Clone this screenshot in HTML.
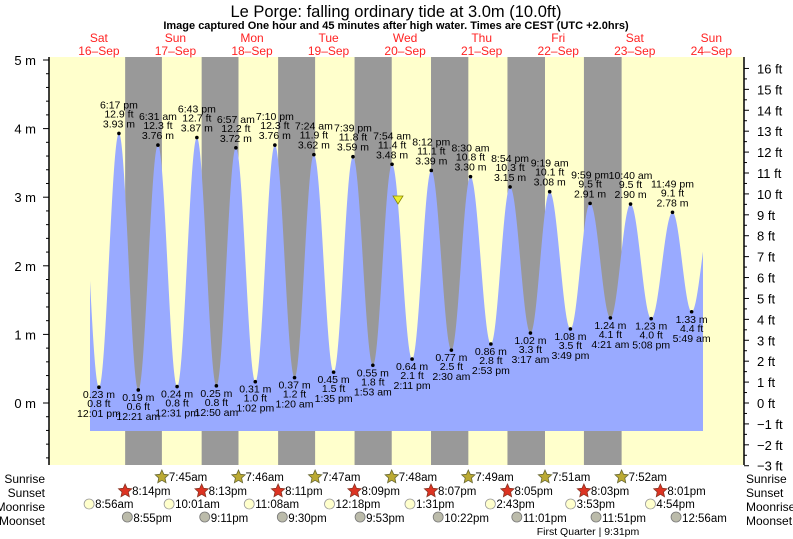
<!DOCTYPE html>
<html><head><meta charset="utf-8"><style>
body{margin:0;background:#fff;}
svg{display:block;font-family:"Liberation Sans",sans-serif;}
</style></head><body>
<svg id="s" width="793" height="539" viewBox="0 0 793 539" xmlns="http://www.w3.org/2000/svg">
<rect x="0" y="0" width="793" height="539" fill="#fff"/>
<text x="396" y="17" font-size="16.5" text-anchor="middle" fill="#000">Le Porge: falling  ordinary tide at 3.0m (10.0ft)</text>
<text x="396" y="29" font-size="11" font-weight="bold" text-anchor="middle" fill="#000">Image captured One hour and 45 minutes after high water. Times are CEST (UTC +2.0hrs)</text>
<g id="g"></g>
</svg>
<script>
var g=document.getElementById('g'),NS='http://www.w3.org/2000/svg';
function el(t,a,txt){var e=document.createElementNS(NS,t);for(var k in a)e.setAttribute(k,a[k]);if(txt!=null)e.textContent=txt;g.appendChild(e);return e;}
var X0=60.6,PH=3.19,Y0=403,SC=68.6,TOP=57,BOT=465,L=49,R=744;
function X(h){return X0+h*PH;}function Y(m){return Y0-m*SC;}
// background
el('rect',{x:L,y:TOP,width:R-L,height:BOT-TOP,fill:'#ffffcc'});
var ss=[20+14/60,20+13/60,20+11/60,20+9/60,20+7/60,20+5/60,20+3/60,20+1/60];
var sr=[7.75,7+46/60,7+47/60,7+48/60,7+49/60,7+51/60,7+52/60];
for(var d=0;d<7;d++){var a=X(d*24+ss[d]),b=X((d+1)*24+sr[d]);el('rect',{x:a,y:TOP,width:b-a,height:BOT-TOP,fill:'#999'});}
// tides
var T=[[5.8,3.9],[12+1/60,.23],[18+17/60,3.93]];
var raw=[[1,0,21,.19],[1,6,31,3.76],[1,12,31,.24],[1,18,43,3.87],[2,0,50,.25],[2,6,57,3.72],[2,13,2,.31],[2,19,10,3.76],[3,1,20,.37],[3,7,24,3.62],[3,13,35,.45],[3,19,39,3.59],[4,1,53,.55],[4,7,54,3.48],[4,14,11,.64],[4,20,12,3.39],[5,2,30,.77],[5,8,30,3.30],[5,14,53,.86],[5,20,54,3.15],[6,3,17,1.02],[6,9,19,3.08],[6,15,49,1.08],[6,21,59,2.91],[7,4,21,1.24],[7,10,40,2.90],[7,17,8,1.23],[7,23,49,2.78],[8,5,49,1.33]];
raw.forEach(function(r){T.push([r[0]*24+r[1]+r[2]/60,r[3]]);});
T.push([8*24+12,2.75]);
var x1=90,x2=703,bb=431;
var p='M'+x1+','+bb;
for(var x=x1;x<=x2;x+=0.5){var h=(x-X0)/PH,v=0;for(var i=0;i<T.length-1;i++){if(h>=T[i][0]&&h<=T[i+1][0]){var f=(h-T[i][0])/(T[i+1][0]-T[i][0]);v=T[i][1]+(T[i+1][1]-T[i][1])*(1-Math.cos(Math.PI*f))/2;break;}}p+=' L'+x+','+Y(v).toFixed(2);}
p+=' L'+x2+','+bb+'Z';
el('path',{d:p,fill:'#99aaff'});
// labels
function fmt(h){var hh=Math.floor(h+1e-6)%24,mm=Math.round((h-Math.floor(h+1e-6))*60);var ap=hh>=12?'pm':'am';var h12=hh%12;if(h12==0)h12=12;return h12+':'+(mm<10?'0':'')+mm+' '+ap;}
for(var i=1;i<T.length-1;i++){var x=X(T[i][0]),y=Y(T[i][1]),m=T[i][1],ft=(m/0.3048).toFixed(1);
el('circle',{cx:x,cy:y,r:1.8,fill:'#000'});
var ms=m.toFixed(2)+' m',fs=ft+' ft',ts=fmt(T[i][0]);
var hi=m>2;var A={'font-size':10.5,'text-anchor':'middle',fill:'#000'};
var lines=hi?[ts,fs,ms]:[ms,fs,ts];
var ys=hi?[y-25,y-16,y-6]:[y+11,y+20,y+30];
for(var k=0;k<3;k++){A.x=x;A.y=ys[k];el('text',A,lines[k]);}}
// marker
el('polygon',{points:'393,196 403,196 398,204',fill:'#eeee33',stroke:'#888800','stroke-width':0.8});
// axes
el('line',{x1:L,y1:TOP,x2:L,y2:BOT,stroke:'#000','stroke-width':1.5});
el('line',{x1:R,y1:TOP,x2:R,y2:BOT,stroke:'#000','stroke-width':1.5});
for(var m=-0.8;m<=5.001;m+=0.2){var y=Y(m),maj=Math.abs(m-Math.round(m))<1e-6;el('line',{x1:L-(maj?6:3),y1:y,x2:L,y2:y,stroke:'#000'});
if(maj)el('text',{x:36,y:y+5,'font-size':13,'text-anchor':'end',fill:'#000'},Math.round(m)+' m');}
for(var f=-3;f<=16.001;f+=0.5){var y=Y0-f*0.3048*SC,maj=Math.abs(f-Math.round(f))<1e-6;el('line',{x1:R,y1:y,x2:R+(maj?5:3),y2:y,stroke:'#000'});
if(maj)el('text',{x:757,y:y+5,'font-size':13,fill:'#000'},(f<0?'\u2212'+(-f):f)+' ft');}
// day labels
var dn=['Sat','Sun','Mon','Tue','Wed','Thu','Fri','Sat','Sun'];
for(var d=0;d<9;d++){var x=X(d*24+12);el('text',{x:x,y:42,'font-size':12,'text-anchor':'middle',fill:'#ff2222'},dn[d]);el('text',{x:x,y:55,'font-size':12,'text-anchor':'middle',fill:'#ff2222'},(16+d)+'\u2013Sep');}
// bottom rows
var rows=[['Sunrise',479],['Sunset',493],['Moonrise',507],['Moonset',521]];
rows.forEach(function(r){el('text',{x:45,y:r[1]+4,'font-size':12,'text-anchor':'end',fill:'#000'},r[0]);el('text',{x:746,y:r[1]+4,'font-size':12,fill:'#000'},r[0]);});
function star(cx,cy,fill,stroke){var s='';for(var k=0;k<10;k++){var a=-Math.PI/2+k*Math.PI/5,rr=k%2?3.3:7;s+=(cx+rr*Math.cos(a)).toFixed(1)+','+(cy+rr*Math.sin(a)).toFixed(1)+' ';}el('polygon',{points:s,fill:fill,stroke:stroke,'stroke-width':0.8});}
function lab(x,y,t){el('text',{x:x+7,y:y+4,'font-size':11.5,fill:'#000'},t);}
var srl=['7:45am','7:46am','7:47am','7:48am','7:49am','7:51am','7:52am'];
for(var d=0;d<7;d++){var x=X((d+1)*24+sr[d]);star(x,477,'#bbaa33','#666633');lab(x,477,srl[d]);}
var ssl=['8:14pm','8:13pm','8:11pm','8:09pm','8:07pm','8:05pm','8:03pm','8:01pm'];
for(var d=0;d<8;d++){var x=X(d*24+ss[d]);star(x,491,'#dd3322','#883322');lab(x,491,ssl[d]);}
var mr=[[0,8,56,'8:56am'],[1,10,1,'10:01am'],[2,11,8,'11:08am'],[3,12,18,'12:18pm'],[4,13,31,'1:31pm'],[5,14,43,'2:43pm'],[6,15,53,'3:53pm'],[7,16,54,'4:54pm']];
mr.forEach(function(r){var x=X(r[0]*24+r[1]+r[2]/60);el('circle',{cx:x,cy:504,r:5,fill:'#ffffcc',stroke:'#999','stroke-width':0.8});lab(x-1,504,r[3]);});
var ms=[[0,20,55,'8:55pm'],[1,21,11,'9:11pm'],[2,21,30,'9:30pm'],[3,21,53,'9:53pm'],[4,22,22,'10:22pm'],[5,23,1,'11:01pm'],[6,23,51,'11:51pm'],[8,0,56,'12:56am']];
ms.forEach(function(r){var x=X(r[0]*24+r[1]+r[2]/60);el('circle',{cx:x,cy:517,r:5,fill:'#bbbbaa',stroke:'#777','stroke-width':0.8});lab(x-1,518,r[3]);});
el('text',{x:588,y:535,'font-size':10.5,'text-anchor':'middle',fill:'#000'},'First Quarter | 9:31pm');
</script>
</body></html>
